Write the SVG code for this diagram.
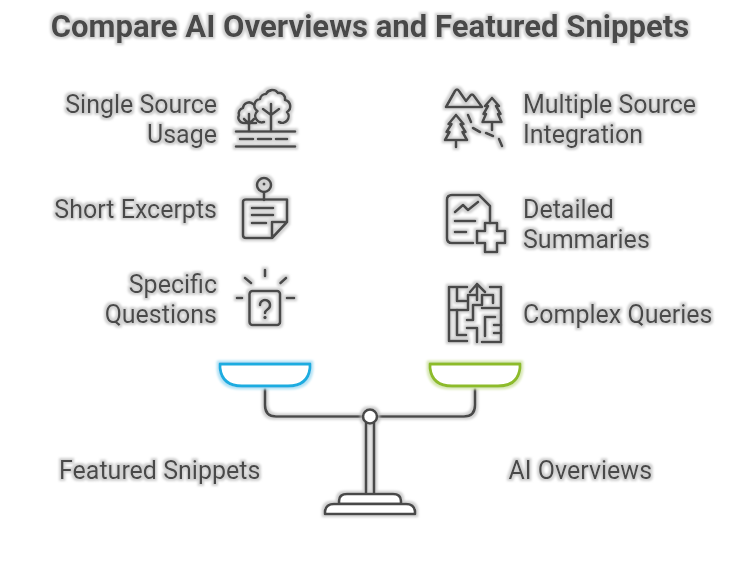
<svg xmlns="http://www.w3.org/2000/svg" width="750" height="564" viewBox="0 0 750 564">
<style>
text{font-family:Roboto,"Liberation Sans",sans-serif;font-size:25px;fill:#484848}
.t{font-size:31.100px;font-weight:700}
.e{text-anchor:end}
.i{fill:none;stroke:#484848;stroke-width:2.600;stroke-linecap:round;stroke-linejoin:round}
.pan{fill:#fff;stroke-width:2.800}
g.h{filter:url(#halo)}
#pan-left{filter:url(#halo-blue)}
#pan-right{filter:url(#halo-green)}
</style>
<defs>
<filter id="halo" filterUnits="userSpaceOnUse" x="0" y="0" width="750" height="564">
<feMorphology in="SourceAlpha" operator="dilate" radius="1.500" result="d"/>
<feGaussianBlur in="d" stdDeviation="0.800" result="b"/>
<feFlood flood-color="#bdbdbd" flood-opacity="0.700"/>
<feComposite in2="b" operator="in" result="s"/>
<feMerge><feMergeNode in="s"/><feMergeNode in="SourceGraphic"/></feMerge>
</filter>
<filter id="halo-blue" filterUnits="userSpaceOnUse" x="0" y="0" width="750" height="564">
<feMorphology in="SourceAlpha" operator="dilate" radius="1.500" result="d"/>
<feGaussianBlur in="d" stdDeviation="0.800" result="b"/>
<feFlood flood-color="#b5e3f5"/>
<feComposite in2="b" operator="in" result="s"/>
<feMerge><feMergeNode in="s"/><feMergeNode in="SourceGraphic"/></feMerge>
</filter>
<filter id="halo-green" filterUnits="userSpaceOnUse" x="0" y="0" width="750" height="564">
<feMorphology in="SourceAlpha" operator="dilate" radius="1.500" result="d"/>
<feGaussianBlur in="d" stdDeviation="0.800" result="b"/>
<feFlood flood-color="#d8e8b5"/>
<feComposite in2="b" operator="in" result="s"/>
<feMerge><feMergeNode in="s"/><feMergeNode in="SourceGraphic"/></feMerge>
</filter>
</defs>
<rect width="750" height="564" fill="#fff"/>
<g id="title" class="h"><text class="t" x="370" y="37" text-anchor="middle">Compare AI Overviews and Featured Snippets</text></g>
<g id="connectors" class="h">
<path class="i" d="M265 386V405Q265 416.500 276 416.500H363M377 416.500H464Q475 416.500 475 405V386"/>
</g>
<g id="pan-left"><path class="i pan" style="stroke:#1cace0" d="M220 364H310V368Q308 386 288 386H242Q222 386 220 368Z"/></g>
<g id="pan-right"><path class="i pan" style="stroke:#8dbb2b" d="M430 364H520V368Q518 386 498 386H452Q432 386 430 368Z"/></g>
<g id="stand" class="h">
<path class="i" d="M366 423V494M374 423V494"/>
<path class="i" style="fill:#fff" d="M339 504V501Q339 494 347 494H393Q401 494 401 501V504Z"/>
<path class="i" style="fill:#fff" d="M325 514V511Q326 504 334 504H406Q414 504 415 511V514Z"/>
<circle class="i" style="fill:#fff" cx="370" cy="416.500" r="7"/>
</g>
<g id="single-source" class="h">
<text class="e" x="217" y="112.500">Single Source</text><text class="e" x="217" y="142.500">Usage</text>
<path class="i" d="M236 131.500H295M240 139H253M258 139H271M276 139H287M236 146.500H295"/>
<path class="i" d="M264 122A6.500 6.500 0 0 1 257.500 111A6.500 6.500 0 0 1 260 99A6 6 0 0 1 266 94A7 7 0 0 1 278 93A6 6 0 0 1 285 100A6.500 6.500 0 0 1 287 112A6.500 6.500 0 0 1 279 122"/>
<path class="i" d="M271 131V104M271 115L263 109M271 115L279 109"/>
<path class="i" d="M244 123A5.500 5.500 0 0 1 239 115A5.500 5.500 0 0 1 243 108A6 6 0 0 1 253 104M244 123H256"/>
<path class="i" d="M249 131V114M249 124L244 119M249 124L254 119"/>
</g>
<g id="multiple-source" class="h">
<text x="523" y="112.500">Multiple Source</text><text x="523" y="142.500">Integration</text>
<path class="i" d="M446 107L455 91Q457 88 459 91L466 101L470 96Q472 93 474 96L482 107Z"/>
<path class="i" d="M492 98L485 106H488L483.500 114H486L482.500 122H501.500L498 114H500.500L496 106H499ZM492 122V130"/>
<path class="i" d="M456 115L448.500 124H451.500L446.500 132H449.500L445 140H467L462.500 132H465.500L460.500 124H463.500ZM456 140V147"/>
<path class="i" d="M468 115L471 122M473 128L480 132M486 133L493 136M499 139L502 146"/>
</g>
<g id="short-excerpts" class="h">
<text class="e" x="217" y="217.500">Short Excerpts</text>
<circle class="i" cx="264" cy="185" r="7"/><circle cx="264" cy="184" r="1.500" fill="#484848"/>
<path class="i" d="M264 192V200"/>
<path class="i" d="M272 238H246Q243 238 243 235V202Q243 199.500 246 199.500H287V222ZM272 238V222H287"/>
<path class="i" d="M252 208H273M252 215H273M252 223H266"/>
</g>
<g id="detailed-summaries" class="h">
<text x="523" y="217.500">Detailed</text><text x="523" y="247.500">Summaries</text>
<path class="i" d="M473 243H452Q447 243 447 238V200Q447 195 452 195H479L490 206V223"/>
<path class="i" d="M455 212L463 205L468 210L478 202M455 221H475M455 232H466"/>
<path class="i" d="M485 223H497V231H505V243H497V252H485V243H477V231H485Z"/>
</g>
<g id="specific-questions" class="h">
<text class="e" x="217" y="292.500">Specific</text><text class="e" x="217" y="322.500">Questions</text>
<rect class="i" x="249.500" y="291" width="30.500" height="34" rx="3"/>
<path class="i" d="M265 270V276M245 278L251 283M286 278L280.500 283M237 298H242M287 298H294"/>
<path class="i" d="M260 305A5 5 0 1 1 268 309C266 310.500 265 311 265 313"/>
<circle cx="265" cy="317.500" r="1.700" fill="#484848"/>
</g>
<g id="complex-queries" class="h">
<text x="523" y="322.500">Complex Queries</text>
<path class="i" d="M467 287H449V341H467M457 287V301H466M449 310H468V295H477M470 292L477 284L485 292M477 284V300"/>
<path class="i" d="M457 310V335H466M467 320H473V305H482V295H493V303M490 287H501V342H482M482 308H501"/>
<path class="i" d="M467 328H477V342M485 317H495M485 317V336M494 325H501M494 333H501"/>
</g>
<g id="featured-snippets" class="h"><text x="59" y="478.500">Featured Snippets</text></g>
<g id="ai-overviews" class="h"><text x="508.500" y="478.500">AI Overviews</text></g>
</svg>
